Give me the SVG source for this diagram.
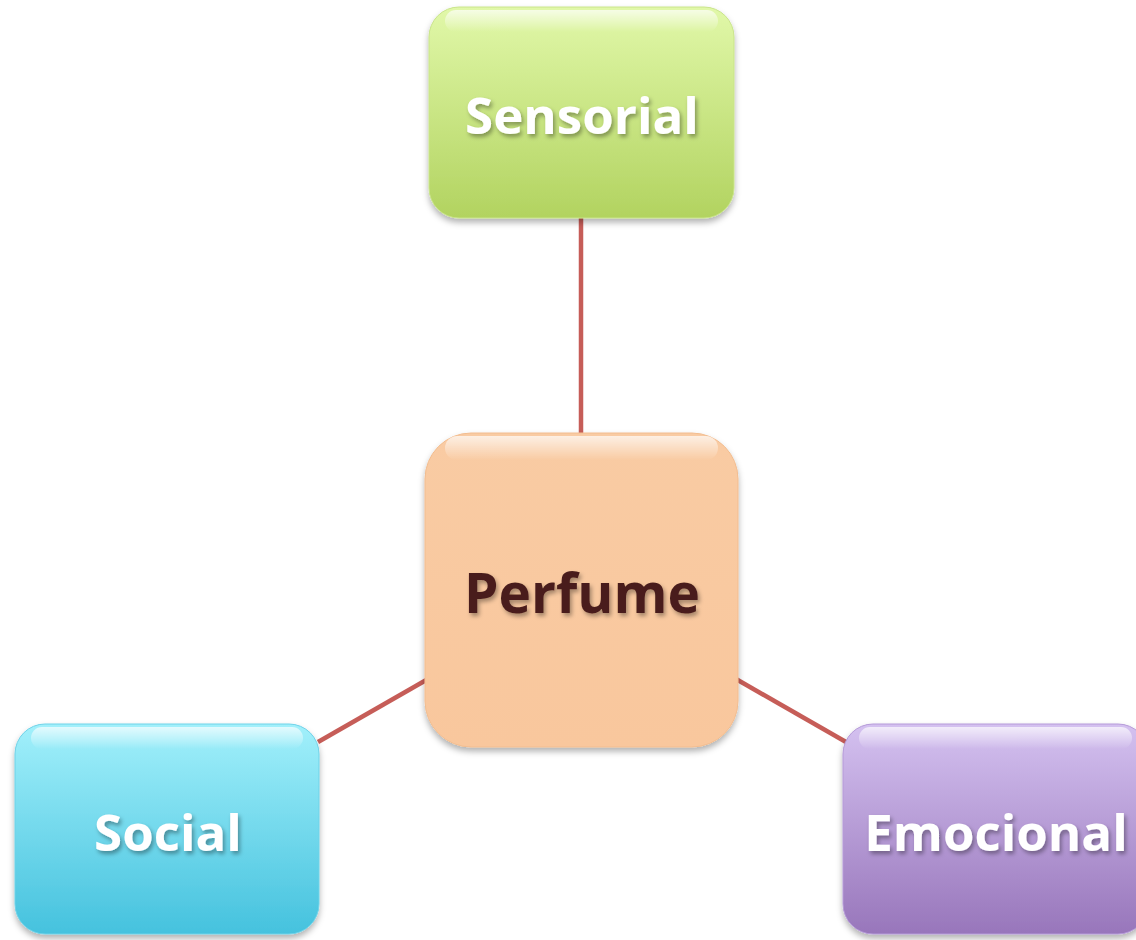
<svg xmlns="http://www.w3.org/2000/svg" width="1136" height="940" viewBox="0 0 1136 940">
<style>
.lbl{font-family:"Open Sans","Noto Sans","Liberation Sans",sans-serif;font-weight:bold;font-size:51px;text-anchor:middle;fill:#fff;filter:url(#ts)}
.dark{fill:#4a1f1c;font-size:55px}
.conn{stroke:#c65d58;stroke-width:4.5;fill:none}
.gloss{fill:url(#gl)}
.box{filter:url(#bs)}
</style>
<defs>
<linearGradient id="gG" x1="0" y1="0" x2="0" y2="1"><stop offset="0" stop-color="#e1f8a9"/><stop offset="1" stop-color="#b2d360"/></linearGradient>
<linearGradient id="gO" x1="0" y1="0" x2="0" y2="1"><stop offset="0" stop-color="#f9cba3"/><stop offset="1" stop-color="#f9c79d"/></linearGradient>
<linearGradient id="gB" x1="0" y1="0" x2="0" y2="1"><stop offset="0" stop-color="#a2f0fb"/><stop offset="1" stop-color="#45c2de"/></linearGradient>
<linearGradient id="gP" x1="0" y1="0" x2="0" y2="1"><stop offset="0" stop-color="#d4c1f0"/><stop offset="1" stop-color="#9876bb"/></linearGradient>
<linearGradient id="gl" x1="0" y1="0" x2="0" y2="1"><stop offset="0" stop-color="#fff" stop-opacity="0.7"/><stop offset="1" stop-color="#fff" stop-opacity="0"/></linearGradient>
<filter id="bs" x="-10%" y="-10%" width="120%" height="125%"><feDropShadow dx="0" dy="4" stdDeviation="3" flood-color="#000" flood-opacity="0.3"/></filter>
<filter id="ts" x="-10%" y="-20%" width="120%" height="150%"><feDropShadow dx="2" dy="3" stdDeviation="2" flood-color="#000" flood-opacity="0.35"/></filter>
</defs>
<g id="connectors">
<line class="conn" x1="581" y1="218" x2="581" y2="436"/>
<line class="conn" x1="318" y1="742" x2="428" y2="679"/>
<line class="conn" x1="736" y1="679" x2="846" y2="742"/>
</g>
<g id="sensorial">
<rect class="box" x="429" y="7" width="305" height="211" rx="30" fill="url(#gG)" stroke="#c9e48a" stroke-width="1"/>
<rect class="gloss" x="445" y="10" width="273" height="22" rx="11"/>
<text class="lbl" x="582" y="134">Sensorial</text>
</g>
<g id="perfume">
<rect class="box" x="425" y="433" width="313" height="314" rx="46" fill="url(#gO)" stroke="#f2bd90" stroke-width="1"/>
<rect class="gloss" x="445" y="436" width="273" height="24" rx="12"/>
<text class="lbl dark" x="582" y="613">Perfume</text>
</g>
<g id="social">
<rect class="box" x="15" y="724" width="304" height="210" rx="30" fill="url(#gB)" stroke="#6fd2e8" stroke-width="1"/>
<rect class="gloss" x="31" y="727" width="272" height="22" rx="11"/>
<text class="lbl" x="168" y="851">Social</text>
</g>
<g id="emocional">
<rect class="box" x="843" y="724" width="305" height="210" rx="30" fill="url(#gP)" stroke="#b59ad8" stroke-width="1"/>
<rect class="gloss" x="859" y="727" width="273" height="22" rx="11"/>
<text class="lbl" x="996" y="851">Emocional</text>
</g>
</svg>
